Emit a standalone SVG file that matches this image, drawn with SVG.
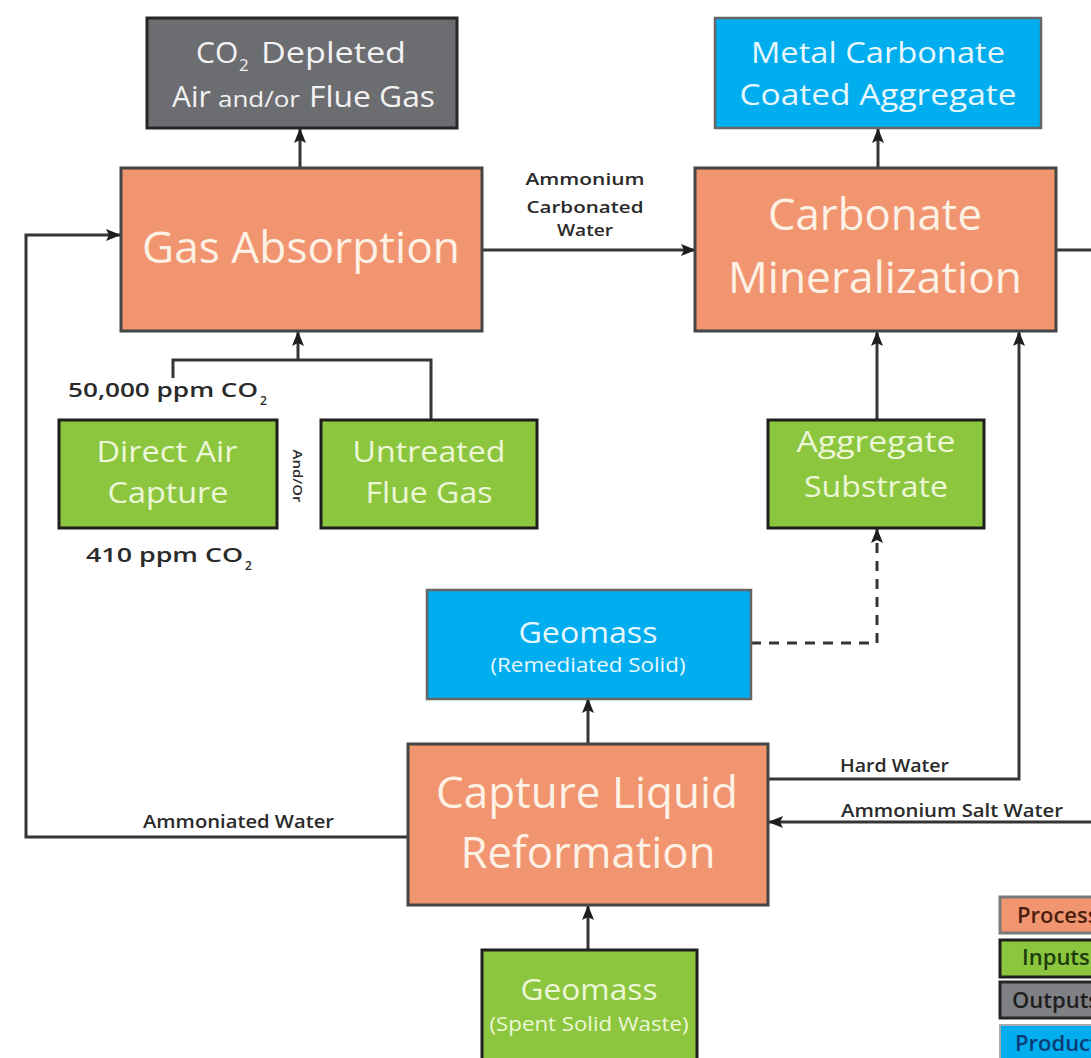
<svg xmlns="http://www.w3.org/2000/svg" width="1091" height="1058" viewBox="0 0 1091 1058">
<defs>
<style>
.proc{fill:#f0956f;stroke:#454545;stroke-width:3}
.inp{fill:#8cc63e;stroke:#1e1e1e;stroke-width:3}
.out{fill:#6c6d70;stroke:#262626;stroke-width:3}
.prod{fill:#00adef;stroke:#666;stroke-width:2.5}
text{font-family:"Open Sans","Noto Sans","Liberation Sans",sans-serif}
.tp{fill:#fdf0e4;font-size:44px}
.ti{fill:#ecf7d8;font-size:30px}
.to{fill:#f2f2f2;font-size:30px}
.tb{fill:#e8f7fd;font-size:30px}
.sm{font-size:20px}
.lbl{fill:#2a2a2a;font-size:18px;font-weight:600}
.c{text-anchor:middle}
.conn path{fill:none;stroke:#353535;stroke-width:3}
.lg{font-size:22px;font-weight:600}
</style>
<marker id="ah" markerUnits="userSpaceOnUse" markerWidth="15" markerHeight="15" refX="14" refY="7.5" orient="auto">
<path d="M0,1.5 L15,7.5 L0,13.5 L3,7.5 z" fill="#1e1e1e"/>
</marker>
</defs>
<rect width="1091" height="1058" fill="#ffffff"/>

<g class="conn" id="connectors">
<path d="M300,168 V129" marker-end="url(#ah)"/>
<path d="M878,168 V129" marker-end="url(#ah)"/>
<path d="M482,250 H695" marker-end="url(#ah)"/>
<path d="M1056,250 H1095"/>
<path d="M173,378 V360 H431 V420"/>
<path d="M298,360 V332" marker-end="url(#ah)"/>
<path d="M877,420 V332" marker-end="url(#ah)"/>
<path d="M768,779 H1019 V332" marker-end="url(#ah)"/>
<path d="M1095,822 H769" marker-end="url(#ah)"/>
<path d="M408,837 H26 V235 H120" marker-end="url(#ah)"/>
<path d="M588,744 V699" marker-end="url(#ah)"/>
<path d="M588,950 V906" marker-end="url(#ah)"/>
<path d="M751,643 H877 V529" stroke-dasharray="10,8" marker-end="url(#ah)"/>
</g>

<g id="co2-depleted">
<rect class="out" x="147" y="18" width="310" height="110"/>
<text class="to" x="196" y="63">CO</text>
<text class="to" x="239" y="71" style="font-size:17px">2</text>
<text class="to" x="261" y="63" textLength="145" lengthAdjust="spacingAndGlyphs">Depleted</text>
<text class="to" x="172" y="107">Air</text>
<text class="to" x="218" y="107" style="font-size:22px" textLength="82" lengthAdjust="spacingAndGlyphs">and/or</text>
<text class="to" x="309" y="107" textLength="126" lengthAdjust="spacingAndGlyphs">Flue Gas</text>
</g>

<g id="metal-carbonate">
<rect class="prod" x="715" y="18" width="326" height="110"/>
<text class="tb c" x="878" y="63" textLength="254" lengthAdjust="spacingAndGlyphs">Metal Carbonate</text>
<text class="tb c" x="878" y="105" textLength="277" lengthAdjust="spacingAndGlyphs">Coated Aggregate</text>
</g>

<g id="gas-absorption">
<rect class="proc" x="121" y="168" width="361" height="163"/>
<text class="tp c" x="301" y="263" textLength="318" lengthAdjust="spacingAndGlyphs">Gas Absorption</text>
</g>

<g id="carbonate-mineralization">
<rect class="proc" x="695" y="168" width="361" height="163"/>
<text class="tp c" x="875" y="230" textLength="214" lengthAdjust="spacingAndGlyphs">Carbonate</text>
<text class="tp c" x="875" y="293" textLength="294" lengthAdjust="spacingAndGlyphs">Mineralization</text>
</g>

<g id="direct-air-capture">
<rect class="inp" x="59" y="420" width="218" height="108"/>
<text class="ti c" x="167" y="462" textLength="141" lengthAdjust="spacingAndGlyphs">Direct Air</text>
<text class="ti c" x="168" y="503" textLength="121" lengthAdjust="spacingAndGlyphs">Capture</text>
</g>

<g id="untreated-flue-gas">
<rect class="inp" x="321" y="420" width="216" height="108"/>
<text class="ti c" x="429" y="462" textLength="153" lengthAdjust="spacingAndGlyphs">Untreated</text>
<text class="ti c" x="429" y="503" textLength="127" lengthAdjust="spacingAndGlyphs">Flue Gas</text>
</g>

<g id="aggregate-substrate">
<rect class="inp" x="768" y="420" width="216" height="108"/>
<text class="ti c" x="876" y="452" textLength="159" lengthAdjust="spacingAndGlyphs">Aggregate</text>
<text class="ti c" x="876" y="497" textLength="144" lengthAdjust="spacingAndGlyphs">Substrate</text>
</g>

<g id="geomass-remediated">
<rect class="prod" x="427" y="590" width="324" height="109"/>
<text class="tb c" x="588" y="643" textLength="139" lengthAdjust="spacingAndGlyphs">Geomass</text>
<text class="tb c sm" x="588" y="672" textLength="195" lengthAdjust="spacingAndGlyphs">(Remediated Solid)</text>
</g>

<g id="capture-liquid-reformation">
<rect class="proc" x="408" y="744" width="360" height="161"/>
<text class="tp c" x="587" y="808" textLength="302" lengthAdjust="spacingAndGlyphs">Capture Liquid</text>
<text class="tp c" x="588" y="868" textLength="255" lengthAdjust="spacingAndGlyphs">Reformation</text>
</g>

<g id="geomass-spent">
<rect class="inp" x="482" y="950" width="215" height="115"/>
<text class="ti c" x="589" y="1000" textLength="137" lengthAdjust="spacingAndGlyphs">Geomass</text>
<text class="ti c sm" x="589" y="1031" textLength="199" lengthAdjust="spacingAndGlyphs">(Spent Solid Waste)</text>
</g>

<g id="labels">
<text class="lbl c" x="585" y="185" style="font-size:16px" textLength="119" lengthAdjust="spacingAndGlyphs">Ammonium</text>
<text class="lbl c" x="585" y="213" style="font-size:16px" textLength="117" lengthAdjust="spacingAndGlyphs">Carbonated</text>
<text class="lbl c" x="585" y="236" style="font-size:16px" textLength="56" lengthAdjust="spacingAndGlyphs">Water</text>
<text class="lbl" x="68" y="397" style="font-size:20px" textLength="190" lengthAdjust="spacingAndGlyphs">50,000 ppm CO</text>
<text class="lbl" x="260" y="405" style="font-size:12px">2</text>
<text class="lbl" x="86" y="562" style="font-size:20px" textLength="157" lengthAdjust="spacingAndGlyphs">410 ppm CO</text>
<text class="lbl" x="245" y="570" style="font-size:12px">2</text>
<text class="lbl c" transform="translate(293,476) rotate(90)" style="font-size:13px" textLength="53" lengthAdjust="spacingAndGlyphs">And/Or</text>
<text class="lbl" x="840" y="772" textLength="109" lengthAdjust="spacingAndGlyphs">Hard Water</text>
<text class="lbl" x="841" y="817" textLength="222" lengthAdjust="spacingAndGlyphs">Ammonium Salt Water</text>
<text class="lbl" x="143" y="828" textLength="191" lengthAdjust="spacingAndGlyphs">Ammoniated Water</text>
</g>

<g id="legend">
<rect x="1000" y="897" width="120" height="36" fill="#f0956f" stroke="#7a7a7a" stroke-width="3"/>
<rect x="1000" y="940" width="120" height="37" fill="#8cc63e" stroke="#1e1e1e" stroke-width="3"/>
<rect x="1000" y="982" width="120" height="36" fill="#808184" stroke="#262626" stroke-width="3"/>
<rect x="1000" y="1025" width="120" height="40" fill="#00adef" stroke="#aaaaaa" stroke-width="2"/>
<text class="lg" x="1017" y="923" fill="#4a1e0e">Process</text>
<text class="lg" x="1022" y="965" fill="#1c3d0c">Inputs</text>
<text class="lg" x="1012" y="1008" fill="#1e1e1e">Outputs</text>
<text class="lg" x="1015" y="1051" fill="#0b3c74">Products</text>
</g>
</svg>
